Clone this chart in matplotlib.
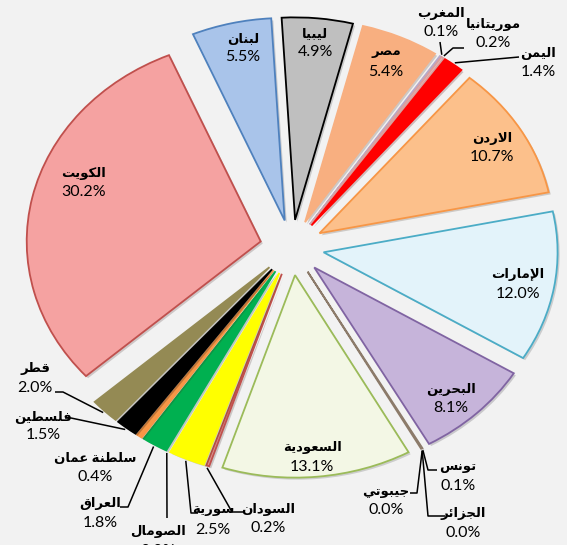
import matplotlib
matplotlib.use("Agg")
import matplotlib.pyplot as plt
import matplotlib.patheffects as pe
import numpy as np

# data, clockwise from 12 o'clock
countries = ["ليبيا", "مصر", "المغرب", "موريتانيا", "اليمن", "الاردن", "الإمارات",
             "البحرين", "تونس", "الجزائر", "جيبوتي", "السعودية", "السودان", "سورية",
             "الصومال", "العراق", "سلطنة عمان", "فلسطين", "قطر", "الكويت", "لبنان"]
shares = [4.9, 5.4, 0.1, 0.2, 1.4, 10.7, 12.0, 8.1, 0.1, 0.0, 0.0, 13.1, 0.2, 2.5,
          0.0, 1.8, 0.4, 1.5, 2.0, 30.2, 5.5]

fills = ["#BFBFBF", "#F8AF80", "#CCC1DA", "#E6B9B8", "#FF0000", "#FCC08B", "#E3F3FA",
         "#C6B4DA", "#C9B29C", "#FFFFFF", "#FFFFFF", "#F3F7E5", "#D99694", "#FFFF00",
         "#FFFFFF", "#00B050", "#F79646", "#000000", "#948A54", "#F5A2A1", "#A9C4EA"]
edges = ["#000000", "#F8AF80", "#B7A9CB", "#D9A09E", "#FF0000", "#F79646", "#4BACC6",
         "#8064A2", "#8C7B6A", "none", "none", "#9BBB59", "#C0504D", "#FFFF00",
         "none", "#00B050", "#F79646", "#000000", "#948A54", "#C0504D", "#4F81BD"]

# label placement in pixels: x, y of name, y of percent
inside = {"ليبيا": (315, 33, 52), "مصر": (386, 52, 72), "الاردن": (492, 138, 157),
          "الإمارات": (518, 274, 294), "البحرين": (451, 390, 408),
          "السعودية": (312, 448, 467), "الكويت": (84, 173, 192), "لبنان": (243, 39, 57)}
outside = {"المغرب": (441, 13, 32), "موريتانيا": (493, 24, 43), "اليمن": (538, 53, 72),
           "قطر": (35, 368, 388), "فلسطين": (43, 417, 435), "سلطنة عمان": (95, 458, 477),
           "العراق": (100, 504, 523), "الصومال": (158, 532, 551), "سورية": (213, 510, 530),
           "السودان": (268, 509, 528), "جيبوتي": (386, 492, 510), "تونس": (458, 467, 486),
           "الجزائر": (463, 513, 533)}
# leader elbows (label side), the line then runs to the slice
leaders = {"المغرب": [(440, 42)], "موريتانيا": [(464, 48), (453, 48)],
           "اليمن": [(519, 57)], "قطر": [(55, 392), (63, 392)],
           "فلسطين": [(65, 418), (71, 418)], "العراق": [(120, 507), (128, 507)],
           "الصومال": [(167, 518)], "سورية": [(198, 513), (191, 513)],
           "السودان": [(244, 512), (232, 512)], "جيبوتي": [(410, 493), (417, 493)],
           "تونس": [(437, 470), (428, 470)], "الجزائر": [(445, 516), (428, 516)]}

W, H = 567, 545
CX, CY, RX, RY = 292, 247.5, 234, 202.5
EXPLODE = 0.137

# minimal arabic shaping (presentation forms) since matplotlib has no shaper
LETTERS = {'ا': (0xFE8D, 'R'), 'إ': (0xFE87, 'R'), 'ب': (0xFE8F, 'D'), 'ة': (0xFE93, 'R'),
           'ت': (0xFE95, 'D'), 'ج': (0xFE9D, 'D'), 'ح': (0xFEA1, 'D'), 'د': (0xFEA9, 'R'),
           'ر': (0xFEAD, 'R'), 'ز': (0xFEAF, 'R'), 'س': (0xFEB1, 'D'), 'ص': (0xFEB9, 'D'),
           'ط': (0xFEC1, 'D'), 'ع': (0xFEC9, 'D'), 'غ': (0xFECD, 'D'), 'ف': (0xFED1, 'D'),
           'ق': (0xFED5, 'D'), 'ك': (0xFED9, 'D'), 'ل': (0xFEDD, 'D'), 'م': (0xFEE1, 'D'),
           'ن': (0xFEE5, 'D'), 'و': (0xFEED, 'R'), 'ي': (0xFEF1, 'D'), 'ئ': (0xFE89, 'D')}
LAM_ALEF = {'ا': 0xFEFB, 'إ': 0xFEF9}


def shape(word):
    ch = list(word)
    out = []
    i = 0
    while i < len(ch):
        c = ch[i]
        if c not in LETTERS:
            out.append(c)
            i += 1
            continue
        prev = ch[i - 1] if i > 0 else None
        jp = prev in LETTERS and LETTERS[prev][1] == 'D'
        if c == 'ل' and i + 1 < len(ch) and ch[i + 1] in LAM_ALEF:
            out.append(chr(LAM_ALEF[ch[i + 1]] + (1 if jp else 0)))
            i += 2
            continue
        base, t = LETTERS[c]
        nxt = ch[i + 1] if i + 1 < len(ch) else None
        jn = t == 'D' and nxt in LETTERS
        k = 3 if (jp and jn) else 1 if jp else 2 if jn else 0
        out.append(chr(base + k))
        i += 1
    return ''.join(reversed(out))


def px(x, y):
    return (x - CX) / RX, (CY - y) / RY


FAM = ['Lato', 'DejaVu Sans']

fig = plt.figure(figsize=(W / 100, H / 100), dpi=100)
fig.patch.set_facecolor("#F2F2F2")
ax = fig.add_axes([0, 0, 1, 1])
wedges, _ = ax.pie(shares, explode=[EXPLODE] * len(shares), startangle=93.3,
                   counterclock=False, colors=fills, radius=1, center=(0, 0),
                   wedgeprops=dict(linewidth=1.3))
for w, e, v in zip(wedges, edges, shares):
    if v == 0:
        w.set_linewidth(0)
    else:
        w.set_edgecolor(e)
        w.set_path_effects([pe.SimplePatchShadow(offset=(1.5, -1.5), alpha=0.22),
                            pe.Normal()])
ax.set_aspect('auto')
ax.set_xlim(-CX / RX, (W - CX) / RX)
ax.set_ylim((CY - H) / RY, CY / RY)
ax.set_position([0, 0, 1, 1])
ax.axis('off')

for name, v in zip(countries, shares):
    pos = inside.get(name) or outside.get(name)
    x, yn, yp = pos
    ax.text(*px(x, yn), shape(name), ha='center', va='center', fontsize=9.5,
            fontweight='bold', family=FAM, color='black')
    ax.text(*px(x, yp), f"{v:.1f}%", ha='center', va='center', fontsize=11.5,
            family=FAM, color='black')

for name, w in zip(countries, wedges):
    if name not in leaders:
        continue
    mid = np.deg2rad((w.theta1 + w.theta2) / 2)
    tip = (w.center[0] + 1.01 * np.cos(mid), w.center[1] + 1.01 * np.sin(mid))
    pts = [px(*p) for p in leaders[name]] + [tip]
    ax.plot([p[0] for p in pts], [p[1] for p in pts], color='black', lw=1.1,
            solid_capstyle='butt')

fig.savefig("out.png", dpi=100, facecolor=fig.get_facecolor())
